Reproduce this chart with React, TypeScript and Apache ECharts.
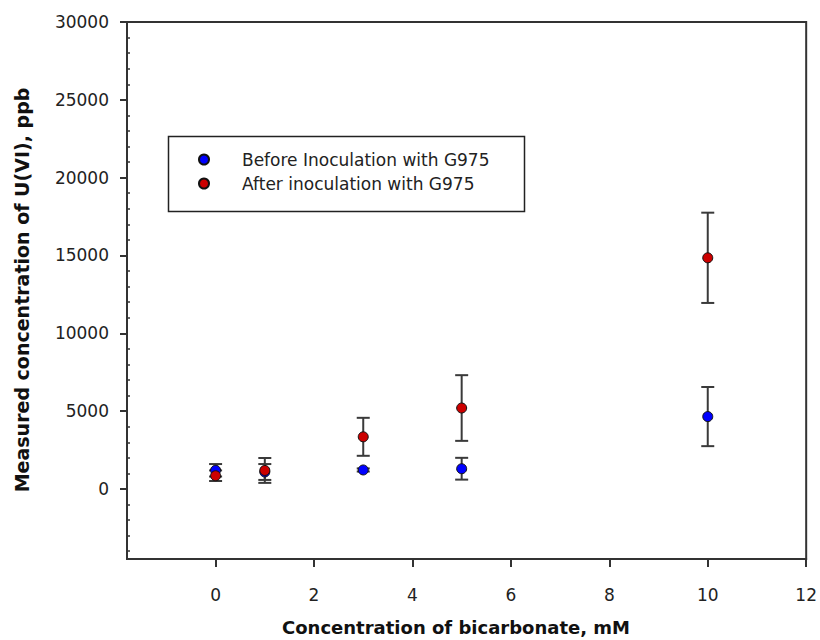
import React, { useEffect, useRef } from "react";
import * as echarts from "echarts";

// Data
const xValues = [0, 1, 3, 5, 10];
const beforeMean = [1200, 1090, 1220, 1300, 4650];
const beforeErr = [400, 510, 100, 700, 1900];
const afterMean = [850, 1190, 3350, 5200, 14850];
const afterErr = [340, 800, 1220, 2110, 2900];

const seriesNames = ["Before Inoculation with G975", "After inoculation with G975"];
const xTicks = [0, 2, 4, 6, 8, 10, 12];
const yTicks = [0, 5000, 10000, 15000, 20000, 25000, 30000];
const yMinorTicks = [
  -4000, -3000, -2000, -1000,
  1000, 2000, 3000, 4000,
  6000, 7000, 8000, 9000,
  11000, 12000, 13000, 14000,
  16000, 17000, 18000, 19000,
  21000, 22000, 23000, 24000,
  26000, 27000, 28000, 29000,
];

const X_MIN = -1.8;
const X_MAX = 12;
const Y_MIN = -4500;
const Y_MAX = 30000;

const AXIS_COLOR = "#333";
const ERR_COLOR = "#3a3a3a";
const FONT = "DejaVu Sans";

function errData(mean: number[], err: number[]) {
  return xValues.map((x, i) => [x, mean[i] - err[i], mean[i] + err[i]]);
}

function errRender(params: any, api: any) {
  const x = api.value(0);
  const lo = api.coord([x, api.value(1)]);
  const hi = api.coord([x, api.value(2)]);
  const half = 6.5;
  const style = { stroke: ERR_COLOR, lineWidth: 2 };
  return {
    type: "group",
    children: [
      { type: "line", shape: { x1: lo[0], y1: lo[1], x2: hi[0], y2: hi[1] }, style },
      { type: "line", shape: { x1: hi[0] - half, y1: hi[1], x2: hi[0] + half, y2: hi[1] }, style },
      { type: "line", shape: { x1: lo[0] - half, y1: lo[1], x2: lo[0] + half, y2: lo[1] }, style },
    ],
  };
}

export default function App() {
  const ref = useRef<HTMLDivElement>(null);
  useEffect(() => {
    if (!ref.current) return;
    const chart = echarts.init(ref.current, undefined, { renderer: "svg" });
    const markerStyle = (color: string) => ({ color, opacity: 1, borderColor: "#111", borderWidth: 1 });
    chart.setOption({
      animation: false,
      backgroundColor: "#fff",
      grid: {
        left: 127,
        right: 12,
        top: 22,
        bottom: 81,
        show: true,
        borderColor: AXIS_COLOR,
        borderWidth: 2,
        backgroundColor: "transparent",
      },
      xAxis: {
        type: "value",
        min: X_MIN,
        max: X_MAX,
        splitLine: { show: false },
        axisLine: { show: true, onZero: false, lineStyle: { color: AXIS_COLOR, width: 2 } },
        axisTick: {
          show: true,
          length: 8,
          customValues: xTicks,
          lineStyle: { color: AXIS_COLOR, width: 2 },
        },
        axisLabel: {
          customValues: xTicks,
          margin: 27,
          color: "#222",
          fontFamily: FONT,
          fontSize: 17,
          formatter: (v: number) => String(v),
        },
      },
      yAxis: [
        {
          type: "value",
          min: Y_MIN,
          max: Y_MAX,
          splitLine: { show: false },
          axisLine: { show: true, onZero: false, lineStyle: { color: AXIS_COLOR, width: 2 } },
          axisTick: {
            show: true,
            length: 7,
            customValues: yTicks,
            lineStyle: { color: AXIS_COLOR, width: 2 },
          },
          axisLabel: {
            customValues: yTicks,
            margin: 18,
            color: "#222",
            fontFamily: FONT,
            fontSize: 17,
            formatter: (v: number) => String(v),
          },
        },
        {
          type: "value",
          min: Y_MIN,
          max: Y_MAX,
          position: "left",
          splitLine: { show: false },
          axisLine: { show: false, onZero: false },
          axisTick: {
            show: true,
            inside: true,
            length: 3,
            customValues: yMinorTicks,
            lineStyle: { color: AXIS_COLOR, width: 1.5 },
          },
          axisLabel: { show: false },
        },
      ],
      legend: {
        orient: "vertical",
        left: 198,
        top: 151,
        padding: 0,
        itemGap: 7,
        itemWidth: 10,
        itemHeight: 10,
        icon: "circle",
        textStyle: { fontFamily: FONT, fontSize: 17, color: "#222", padding: [0, 0, 0, 28] },
        data: seriesNames,
      },
      graphic: [
        {
          type: "rect",
          shape: { x: 168.5, y: 136.5, width: 356, height: 75 },
          style: { fill: "none", stroke: "#222", lineWidth: 1.5 },
          z: 100,
        },
        {
          type: "text",
          x: 456,
          y: 627,
          style: {
            text: "Concentration of bicarbonate, mM",
            fontFamily: FONT,
            fontWeight: "bold",
            fontSize: 18,
            fill: "#111",
            align: "center",
            verticalAlign: "middle",
          },
        },
        {
          type: "text",
          x: 22,
          y: 290,
          rotation: Math.PI / 2,
          style: {
            text: "Measured concentration of U(VI), ppb",
            fontFamily: FONT,
            fontWeight: "bold",
            fontSize: 19,
            fill: "#111",
            align: "center",
            verticalAlign: "middle",
          },
        },
      ],
      series: [
        {
          type: "custom",
          name: "err-before",
          renderItem: errRender,
          data: errData(beforeMean, beforeErr),
          encode: { x: 0, y: [1, 2] },
          z: 2,
          silent: true,
        },
        {
          type: "custom",
          name: "err-after",
          renderItem: errRender,
          data: errData(afterMean, afterErr),
          encode: { x: 0, y: [1, 2] },
          z: 2,
          silent: true,
        },
        {
          type: "scatter",
          name: seriesNames[0],
          symbol: "circle",
          symbolSize: 10,
          itemStyle: markerStyle("#0000ff"),
          data: xValues.map((x, i) => [x, beforeMean[i]]),
          z: 3,
        },
        {
          type: "scatter",
          name: seriesNames[1],
          symbol: "circle",
          symbolSize: 10,
          itemStyle: markerStyle("#cc0000"),
          data: xValues.map((x, i) => [x, afterMean[i]]),
          z: 4,
        },
      ],
    });
    return () => chart.dispose();
  }, []);
  return <div ref={ref} style={{ width: 820, height: 640, position: "absolute", left: 0, top: 0 }} />;
}
